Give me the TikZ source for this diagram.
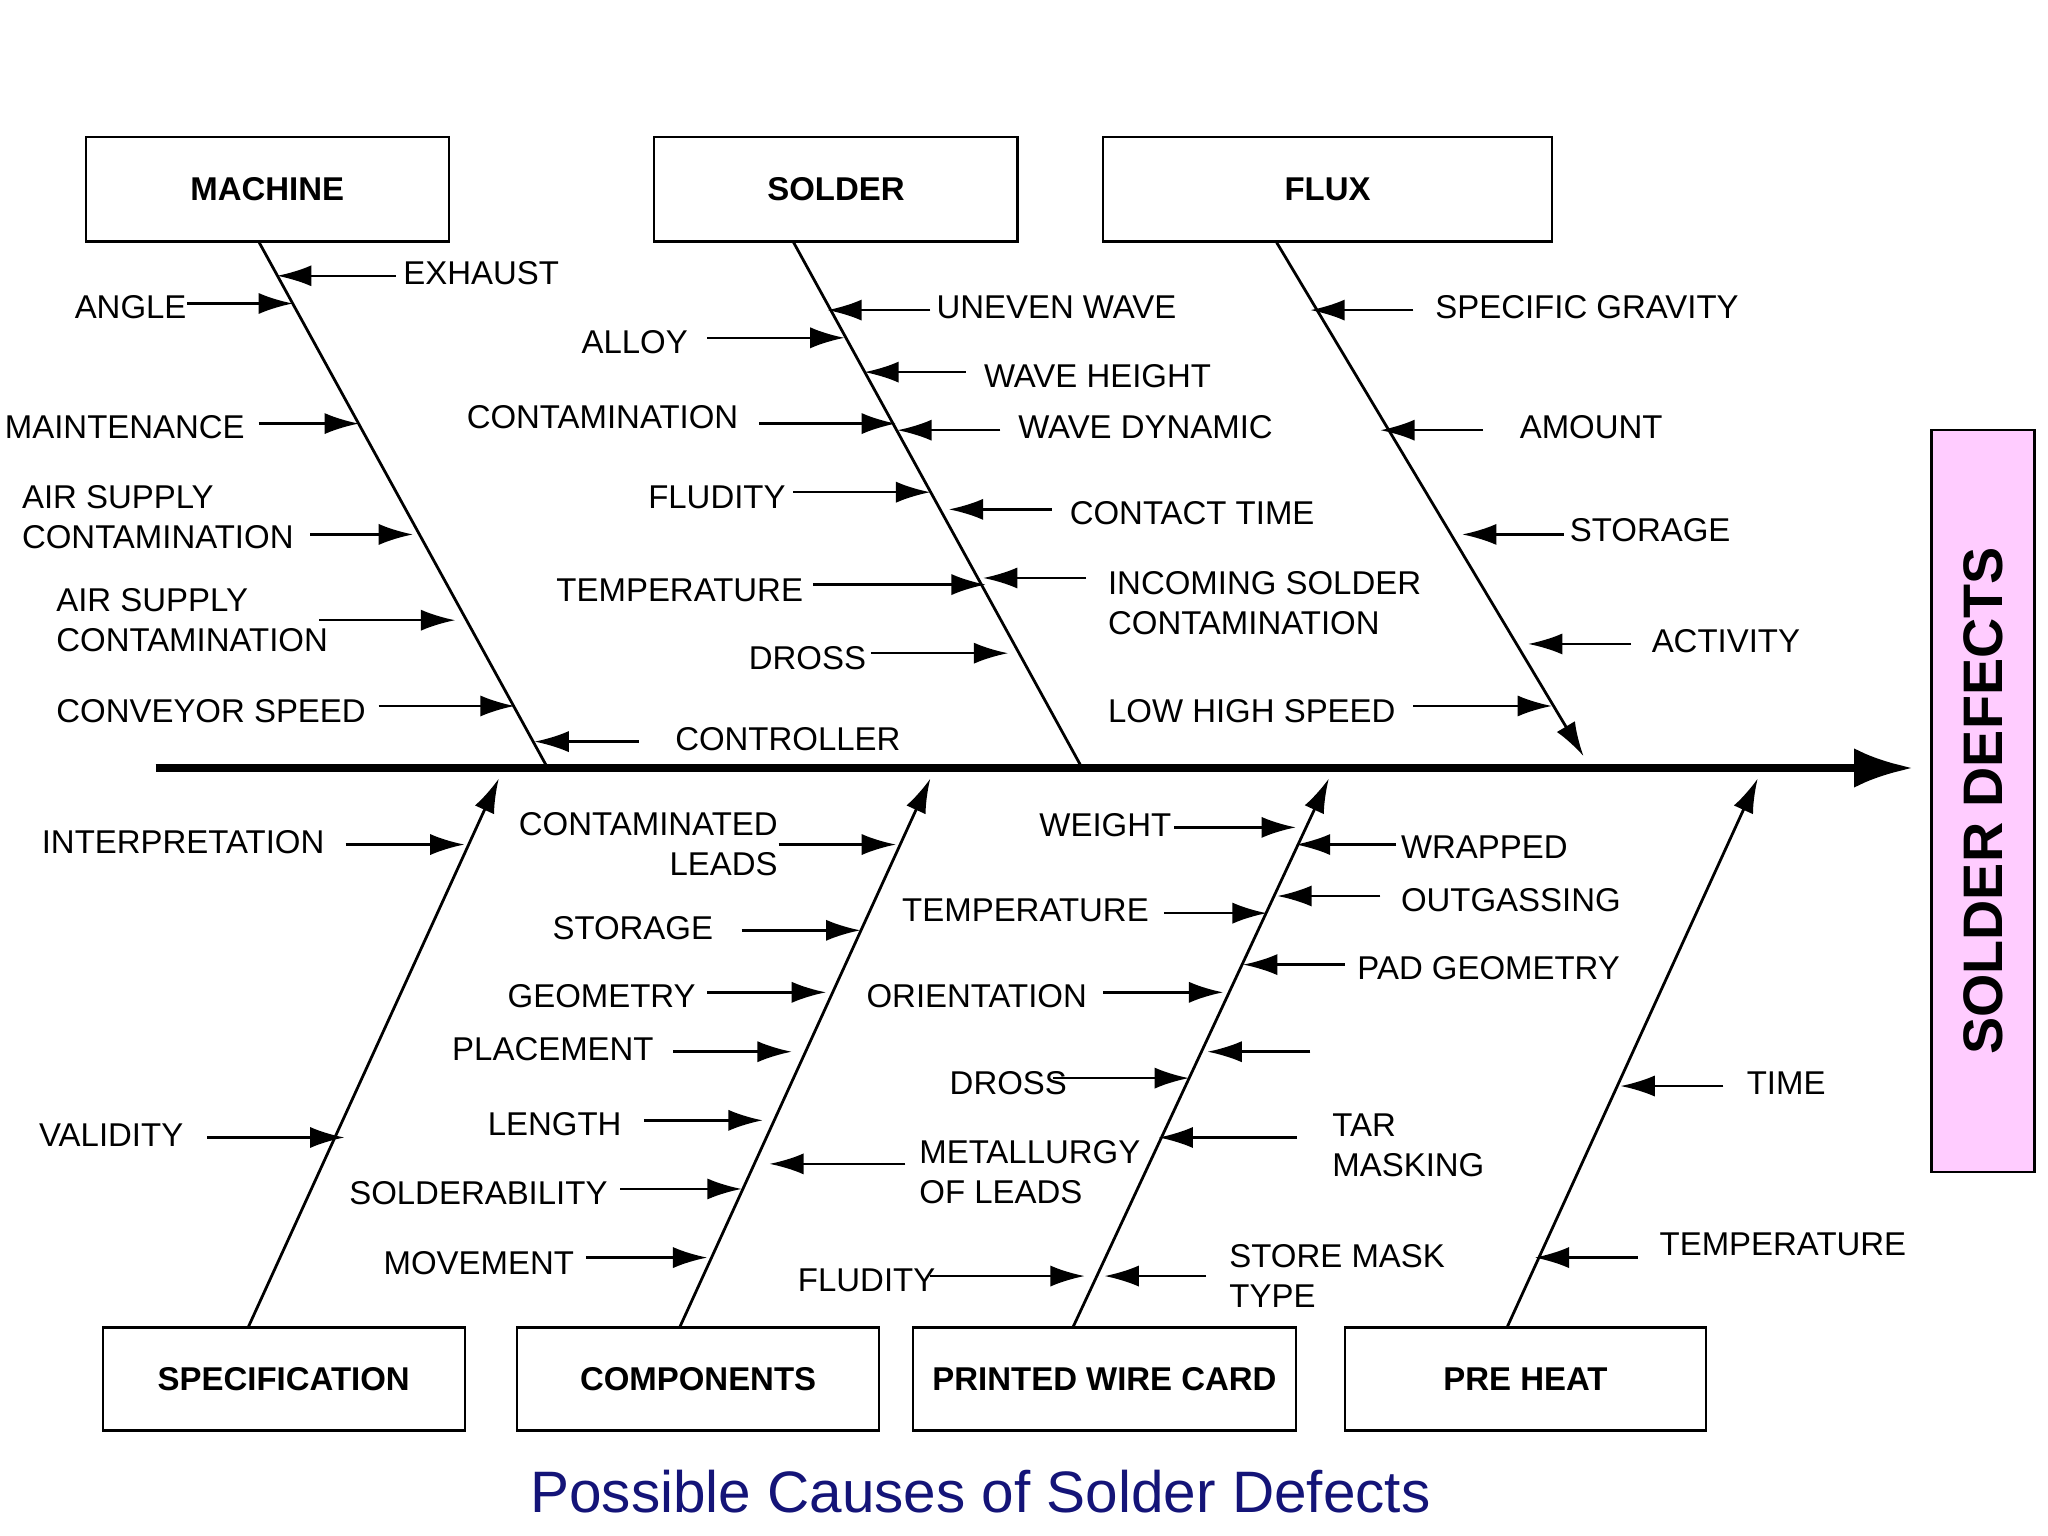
\documentclass[tikz,border=0pt]{standalone}
\usepackage{fontspec}
\setmainfont{Liberation Sans}
\usetikzlibrary{arrows.meta}
\begin{document}
\begin{tikzpicture}[x=0.01cm,y=-0.01cm,
  lab/.style={font=\fontsize{7.1pt}{8.6pt}\selectfont,inner sep=0pt,align=left},
  box/.style={draw,line width=0.45pt,font=\fontsize{7.1pt}{8.6pt}\selectfont\bfseries,inner sep=0pt},
  bone/.style={line width=0.6pt},
  ar/.style={line width=0.55pt,-{Latex[length=2.6mm,width=1.6mm]}}]
\useasboundingbox (0,0) rectangle (1552,1164);
% boxes
\node[box,minimum width=2.75cm,minimum height=0.79cm] (machine) at (202.5,143.5) {MACHINE};
\node[box,minimum width=2.75cm,minimum height=0.79cm] (solder) at (633.5,143.5) {SOLDER};
\node[box,minimum width=3.40cm,minimum height=0.79cm] (flux) at (1006,143.5) {FLUX};
\node[box,minimum width=2.74cm,minimum height=0.78cm] (spec) at (215,1045) {SPECIFICATION};
\node[box,minimum width=2.74cm,minimum height=0.78cm] (comp) at (529,1045) {COMPONENTS};
\node[box,minimum width=2.90cm,minimum height=0.78cm] (pwc) at (837,1045) {PRINTED WIRE CARD};
\node[box,minimum width=2.74cm,minimum height=0.78cm] (pre) at (1156,1045) {PRE HEAT};
\node[draw,line width=0.6pt,fill={rgb,255:red,255;green,204;blue,255},minimum width=0.78cm,minimum height=5.62cm,inner sep=0pt] (sd) at (1503,607) {};
\node[rotate=90,font=\fontsize{12pt}{14pt}\selectfont\bfseries] at (sd.center) {SOLDER DEFECTS};
\node[font=\fontsize{12.6pt}{15pt}\selectfont,text={rgb,255:red,20;green,20;blue,120}] (title) at (743,1130) {Possible Causes of Solder Defects};
% spine
\coordinate (s0) at (118,582); \coordinate (s1) at (1450,582);
\draw[line width=1.8pt,-{Latex[length=4.5mm,width=3mm]}] (s0) -- (s1);
% bones
\coordinate (m1) at (415,582); \coordinate (so1) at (820,582); \coordinate (f1) at (1200,573);
\draw[bone] (196,183) -- (m1);
\draw[bone] (601,183) -- (so1);
\draw[bone,-{Latex[length=2.6mm,width=1.6mm]}] (967,183) -- (f1);
\draw[bone,-{Latex[length=2.6mm,width=1.6mm]}] (188,1006) -- (378,590);
\draw[bone,-{Latex[length=2.6mm,width=1.6mm]}] (515,1006) -- (705,590);
\draw[bone,-{Latex[length=2.6mm,width=1.6mm]}] (813,1006) -- (1007,590);
\draw[bone,-{Latex[length=2.6mm,width=1.6mm]}] (1142,1006) -- (1332,590);
% machine
\node[lab,anchor=west] at (305,207) {EXHAUST}; \draw[ar] (300,209) -- (210,209);
\node[lab,anchor=east] at (142,233) {ANGLE}; \draw[ar] (142,230) -- (222,230);
\node[lab,anchor=west] at (3,324) {MAINTENANCE}; \draw[ar] (196,321) -- (272,321);
\node[lab,anchor=west] at (16,392) {AIR SUPPLY\\CONTAMINATION}; \draw[ar] (235,405) -- (313,405);
\node[lab,anchor=west] at (42,470) {AIR SUPPLY\\CONTAMINATION}; \draw[ar] (242,470) -- (345,470);
\node[lab,anchor=west] at (42,539) {CONVEYOR SPEED}; \draw[ar] (287,535) -- (390,535);
\node[lab,anchor=west] at (511,560) {CONTROLLER}; \draw[ar] (484,562) -- (405,562);
% solder
\node[lab,anchor=west] at (709,233) {UNEVEN WAVE}; \draw[ar] (705,235) -- (627,235);
\node[lab,anchor=west] at (440,259) {ALLOY}; \draw[ar] (536,256) -- (640,256);
\node[lab,anchor=west] at (745,285) {WAVE HEIGHT}; \draw[ar] (732,282) -- (655,282);
\node[lab,anchor=west] at (353,316) {CONTAMINATION}; \draw[ar] (575,321) -- (679,321);
\node[lab,anchor=west] at (771,324) {WAVE DYNAMIC}; \draw[ar] (758,326) -- (680,326);
\node[lab,anchor=east] at (596,377) {FLUDITY}; \draw[ar] (601,373) -- (705,373);
\node[lab,anchor=west] at (810,389) {CONTACT TIME}; \draw[ar] (797,386) -- (719,386);
\node[lab,anchor=west] at (421,447) {TEMPERATURE}; \draw[ar] (616,443) -- (747,443);
\node[lab,anchor=west] at (839,457) {INCOMING SOLDER\\CONTAMINATION}; \draw[ar] (823,438) -- (745,438);
\node[lab,anchor=east] at (657,499) {DROSS}; \draw[ar] (660,495) -- (764,495);
% flux
\node[lab,anchor=west] at (1087,233) {SPECIFIC GRAVITY}; \draw[ar] (1071,235) -- (993,235);
\node[lab,anchor=west] at (1151,324) {AMOUNT}; \draw[ar] (1124,326) -- (1046,326);
\node[lab,anchor=west] at (1189,402) {STORAGE}; \draw[ar] (1185,405) -- (1108,405);
\node[lab,anchor=west] at (1251,486) {ACTIVITY}; \draw[ar] (1236,488) -- (1158,488);
\node[lab,anchor=west] at (839,539) {LOW HIGH SPEED}; \draw[ar] (1071,535) -- (1176,535);
% specification
\node[lab,anchor=west] at (31,638) {INTERPRETATION}; \draw[ar] (262,640) -- (352,640);
\node[lab,anchor=west] at (29,860) {VALIDITY}; \draw[ar] (157,862) -- (261,862);
% components
\node[lab,anchor=east,align=right] at (590,640) {CONTAMINATED\\LEADS}; \draw[ar] (590,640) -- (679,640);
\node[lab,anchor=west] at (418,703) {STORAGE}; \draw[ar] (562,705) -- (652,705);
\node[lab,anchor=west] at (384,755) {GEOMETRY}; \draw[ar] (536,752) -- (626,752);
\node[lab,anchor=west] at (342,795) {PLACEMENT}; \draw[ar] (510,797) -- (600,797);
\node[lab,anchor=west] at (369,852) {LENGTH}; \draw[ar] (488,849) -- (578,849);
\node[lab,anchor=west] at (264,904) {SOLDERABILITY}; \draw[ar] (470,901) -- (562,901);
\node[lab,anchor=west] at (290,957) {MOVEMENT}; \draw[ar] (444,953) -- (536,953);
\node[lab,anchor=west] at (696,888) {METALLURGY\\OF LEADS}; \draw[ar] (686,882) -- (583,882);
% printed wire card
\node[lab,anchor=west] at (787,625) {WEIGHT}; \draw[ar] (890,627) -- (982,627);
\node[lab,anchor=west] at (1061,642) {WRAPPED}; \draw[ar] (1058,640) -- (982,640);
\node[lab,anchor=west] at (683,690) {TEMPERATURE}; \draw[ar] (882,692) -- (960,692);
\node[lab,anchor=west] at (1061,682) {OUTGASSING}; \draw[ar] (1046,679) -- (968,679);
\node[lab,anchor=west] at (1028,734) {PAD GEOMETRY}; \draw[ar] (1019,731) -- (942,731);
\node[lab,anchor=west] at (656,755) {ORIENTATION}; \draw[ar] (836,752) -- (927,752);
\draw[ar] (993,797) -- (915,797);
\node[lab,anchor=west] at (719,821) {DROSS}; \draw[ar] (798,817) -- (901,817);
\node[lab,anchor=west] at (1009,868) {TAR\\MASKING}; \draw[ar] (983,862) -- (878,862);
\node[lab,anchor=west] at (604,970) {FLUDITY}; \draw[ar] (705,967) -- (822,967);
\node[lab,anchor=west] at (931,967) {STORE MASK\\TYPE}; \draw[ar] (914,967) -- (837,967);
% pre heat
\node[lab,anchor=west] at (1323,821) {TIME}; \draw[ar] (1306,823) -- (1228,823);
\node[lab,anchor=west] at (1257,943) {TEMPERATURE}; \draw[ar] (1241,953) -- (1163,953);
\end{tikzpicture}
\end{document}
